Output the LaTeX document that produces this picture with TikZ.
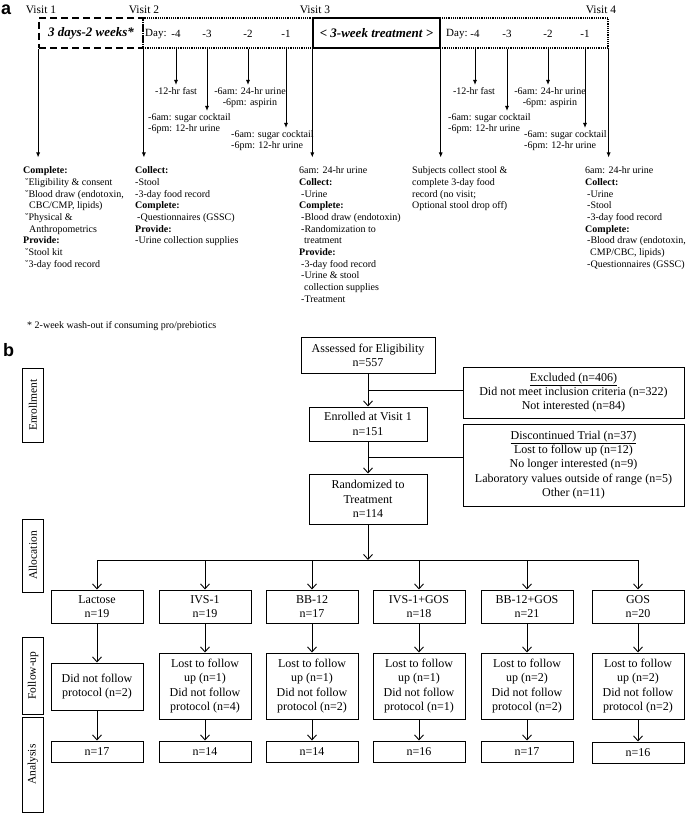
\documentclass[tikz,border=0pt]{standalone}
\usepackage{fontspec}
\setmainfont{Liberation Serif}
\newfontfamily\panelfont{Liberation Sans}
\usetikzlibrary{positioning,arrows.meta,calc}
\tikzset{
    panel/.style = {
        anchor=base west,
        inner sep=0pt,
        font=\panelfont\bfseries\fontsize{18}{18}\selectfont
    },
    visit/.style = {
        inner sep=0pt,
        font=\fontsize{11.5}{13}\selectfont
    },
    dayrow/.style = {
        inner sep=0pt,
        font=\fontsize{11}{13}\selectfont
    },
    washout/.style = {
        draw,
        shape=rectangle,
        minimum height=30pt,
        line width=1.8pt,
        dash pattern=on 7pt off 4pt,
        font=\bfseries\itshape\fontsize{13}{15}\selectfont
    },
    treatment/.style = {
        draw,
        shape=rectangle,
        minimum height=30pt,
        line width=1.4pt,
        font=\bfseries\itshape\fontsize{13}{15}\selectfont
    },
    daybox/.style = {
        draw,
        shape=rectangle,
        minimum height=30pt,
        line width=1.2pt,
        densely dotted
    },
    daynote/.style = {
        inner sep=2pt,
        align=left,
        font=\fontsize{10}{11.7}\selectfont
    },
    visitnote/.style = {
        inner sep=0pt,
        anchor=north west,
        align=left,
        font=\fontsize{10}{11.7}\selectfont
    },
    dayarrow/.style = {
        -{Latex[length=5pt,width=4pt]},
        line width=0.9pt
    },
    visitarrow/.style = {
        -{Latex[length=5pt,width=4pt]},
        line width=0.9pt,
        shorten >=9pt
    },
    flowbox/.style = {
        draw,
        shape=rectangle,
        line width=1pt,
        align=center,
        inner sep=1pt,
        font=\fontsize{12}{14.3}\selectfont
    },
    arm/.style = {
        flowbox,
        minimum width=92pt,
        minimum height=33pt
    },
    loss/.style = {
        flowbox,
        minimum width=92pt,
        minimum height=66pt
    },
    count/.style = {
        flowbox,
        minimum width=92pt,
        minimum height=21pt
    },
    phase/.style = {
        draw,
        shape=rectangle,
        rotate=90,
        line width=1pt,
        minimum height=21pt,
        inner sep=1pt,
        font=\fontsize{11.5}{13}\selectfont
    },
    flow/.style = {
        ->,
        line width=0.9pt
    },
    >={Straight Barb[length=5pt,width=9pt]},
}
\begin{document}
\begin{tikzpicture}[x=1pt,y=-1pt]
    \useasboundingbox (0,0) rectangle (685,813);

    % a: visit timeline
    \node[panel] (pa) at (1,15) {a};
    \node[visit] (visit1) at (41,9.5) {Visit 1};
    \node[visit] (visit2) at (144,9.5) {Visit 2};
    \node[visit] (visit3) at (315,9.5) {Visit 3};
    \node[visit] (visit4) at (601,9.5) {Visit 4};

    \node[daybox, minimum width=170pt] (daysA) at (228,33) {};
    \node[daybox, minimum width=168pt] (daysB) at (524,33) {};
    \node[washout, minimum width=104pt] (wash) at (91,33) {3 days-2 weeks*};
    \node[treatment, minimum width=127pt] (treat) at (376.5,33) {< 3-week treatment >};

    \node[dayrow, anchor=west] (dayA) at (145,34) {Day:};
    \node[dayrow] (dA4) at (176,34) {-4};
    \node[dayrow] (dA3) at (207,34) {-3};
    \node[dayrow] (dA2) at (248,34) {-2};
    \node[dayrow] (dA1) at (286,34) {-1};
    \node[dayrow, anchor=west] (dayB) at (446,34) {Day:};
    \node[dayrow] (dB4) at (475,34) {-4};
    \node[dayrow] (dB3) at (507,34) {-3};
    \node[dayrow] (dB2) at (548,34) {-2};
    \node[dayrow] (dB1) at (585,34) {-1};

    \node[daynote, anchor=north, align=center] (fastA) at (176,85) {-12-hr fast};
    \node[daynote, anchor=north, align=center] (urineA) at (250,85) {-6am: 24-hr urine\\-6pm: aspirin};
    \node[daynote, anchor=north west] (sugA) at (146,111) {-6am: sugar cocktail\\-6pm: 12-hr urine};
    \node[daynote, anchor=north west] (sugA1) at (229,128) {-6am: sugar cocktail\\-6pm: 12-hr urine};
    \node[daynote, anchor=north, align=center] (fastB) at (474,85) {-12-hr fast};
    \node[daynote, anchor=north, align=center] (urineB) at (550,85) {-6am: 24-hr urine\\-6pm: aspirin};
    \node[daynote, anchor=north west] (sugB) at (446,111) {-6am: sugar cocktail\\-6pm: 12-hr urine};
    \node[daynote, anchor=north west] (sugB1) at (522,128) {-6am: sugar cocktail\\-6pm: 12-hr urine};

    \path[draw, dayarrow] (dA4 |- daysA.south) -- (fastA.north);
    \path[draw, dayarrow] (dA3 |- daysA.south) -- (dA3 |- sugA.north);
    \path[draw, dayarrow] (dA2 |- daysA.south) -- (dA2 |- urineA.north);
    \path[draw, dayarrow] (dA1 |- daysA.south) -- (dA1 |- sugA1.north);
    \path[draw, dayarrow] (dB4 |- daysB.south) -- (dB4 |- fastB.north);
    \path[draw, dayarrow] (dB3 |- daysB.south) -- (dB3 |- sugB.north);
    \path[draw, dayarrow] (dB2 |- daysB.south) -- (dB2 |- urineB.north);
    \path[draw, dayarrow] (dB1 |- daysB.south) -- (dB1 |- sugB1.north);

    \node[visitnote] (v1text) at (23,166.5) {\textbf{Complete:}\\
        \hspace*{2pt}˘Eligibility \& consent\\
        \hspace*{2pt}˘Blood draw (endotoxin,\\
        \hspace*{6pt}CBC/CMP, lipids)\\
        \hspace*{2pt}˘Physical \&\\
        \hspace*{6pt}Anthropometrics\\
        \textbf{Provide:}\\
        \hspace*{2pt}˘Stool kit\\
        \hspace*{2pt}˘3-day food record};
    \node[visitnote] (v2text) at (135,166.5) {\textbf{Collect:}\\
        -Stool\\
        -3-day food record\\
        \textbf{Complete:}\\
        \hspace*{2pt}-Questionnaires (GSSC)\\
        \textbf{Provide:}\\
        -Urine collection supplies};
    \node[visitnote] (v3text) at (299,166.5) {6am: 24-hr urine\\
        \textbf{Collect:}\\
        \hspace*{2pt}-Urine\\
        \textbf{Complete:}\\
        \hspace*{2pt}-Blood draw (endotoxin)\\
        \hspace*{2pt}-Randomization to\\
        \hspace*{5pt}treatment\\
        \textbf{Provide:}\\
        \hspace*{2pt}-3-day food record\\
        \hspace*{2pt}-Urine \& stool\\
        \hspace*{5pt}collection supplies\\
        \hspace*{2pt}-Treatment};
    \node[visitnote] (midtext) at (412,166.5) {Subjects collect stool \&\\
        complete 3-day food\\
        record (no visit;\\
        Optional stool drop off)};
    \node[visitnote] (v4text) at (585,166.5) {6am: 24-hr urine\\
        \textbf{Collect:}\\
        \hspace*{2pt}-Urine\\
        \hspace*{2pt}-Stool\\
        \hspace*{2pt}-3-day food record\\
        \textbf{Complete:}\\
        \hspace*{2pt}-Blood draw (endotoxin,\\
        \hspace*{5pt}CMP/CBC, lipids)\\
        \hspace*{2pt}-Questionnaires (GSSC)};
    \node[visitnote] (washnote) at (27,321) {* 2-week wash-out if consuming pro/prebiotics};

    \path[draw, visitarrow] (wash.south west) -- (wash.south west |- v1text.north);
    \path[draw, visitarrow] (wash.south east) -- (wash.south east |- v2text.north);
    \path[draw, visitarrow] (treat.south west) -- (treat.south west |- v3text.north);
    \path[draw, visitarrow] (treat.south east) -- (treat.south east |- midtext.north);
    \path[draw, visitarrow] (daysB.south east) -- (daysB.south east |- v4text.north);

    % b: flow of participants
    \node[panel] (pb) at (3,356) {b};
    \node[phase, minimum width=74pt] (enrolment) at (33,405) {Enrollment};
    \node[phase, minimum width=73pt] (allocation) at (33,555.5) {Allocation};
    \node[phase, minimum width=77pt] (followup) at (33,675.5) {Follow-up};
    \node[phase, minimum width=95pt] (analysis) at (33,764.5) {Analysis};

    \node[flowbox, minimum width=134pt, minimum height=36pt] (assess) at (368,355) {Assessed for Eligibility\\n=557};
    \node[flowbox, minimum width=221pt, minimum height=51pt] (excl) at (573.5,392.5) {\underline{Excluded (n=406)}\\Did not meet inclusion criteria (n=322)\\Not interested (n=84)};
    \node[flowbox, minimum width=118pt, minimum height=34pt] (enrol) at (368,424) {Enrolled at Visit 1\\n=151};
    \node[flowbox, minimum width=221pt, minimum height=82pt] (disc) at (573.5,465) {\underline{Discontinued Trial (n=37)}\\Lost to follow up (n=12)\\No longer interested (n=9)\\Laboratory values outside of range (n=5)\\Other (n=11)};
    \node[flowbox, minimum width=118pt, minimum height=50pt] (rand) at (368,499) {Randomized to\\Treatment\\n=114};

    \path[draw, flow] (assess) -- coordinate (exclj) (enrol);
    \path[draw, line width=0.9pt] (exclj) -- (exclj -| excl.west);
    \path[draw, flow] (enrol) -- coordinate (discj) (rand);
    \path[draw, line width=0.9pt] (discj) -- (discj -| disc.west);

    \node[arm] (lact) at (97,606.5) {Lactose\\n=19};
    \node[arm] (ivs) at (205,606.5) {IVS-1\\n=19};
    \node[arm] (bb) at (312,606.5) {BB-12\\n=17};
    \node[arm] (ivsgos) at (419,606.5) {IVS-1+GOS\\n=18};
    \node[arm] (bbgos) at (527,606.5) {BB-12+GOS\\n=21};
    \node[arm] (gos) at (638,606.5) {GOS\\n=20};

    \node[loss, minimum height=47pt] (lactfu) at (97,686.5) {Did not follow\\protocol (n=2)};
    \node[loss] (ivsfu) at (205,686) {Lost to follow\\up (n=1)\\Did not follow\\protocol (n=4)};
    \node[loss] (bbfu) at (312,686) {Lost to follow\\up (n=1)\\Did not follow\\protocol (n=2)};
    \node[loss] (ivsgosfu) at (419,686) {Lost to follow\\up (n=1)\\Did not follow\\protocol (n=1)};
    \node[loss] (bbgosfu) at (527,686) {Lost to follow\\up (n=2)\\Did not follow\\protocol (n=2)};
    \node[loss] (gosfu) at (638,686) {Lost to follow\\up (n=2)\\Did not follow\\protocol (n=2)};

    \node[count] (lactan) at (97,751.5) {n=17};
    \node[count] (ivsan) at (205,751.5) {n=14};
    \node[count] (bban) at (312,751.5) {n=14};
    \node[count] (ivsgosan) at (419,751.5) {n=16};
    \node[count] (bbgosan) at (527,751.5) {n=17};
    \node[count] (gosan) at (638,752.5) {n=16};

    \coordinate (split) at (368,560);
    \path[draw, flow] (rand) -- (split);
    \path[draw, line width=0.9pt] (lact.north |- split) -- (gos.north |- split);
    \path[draw, flow] (lact.north |- split) -- (lact);
    \path[draw, flow] (ivs.north |- split) -- (ivs);
    \path[draw, flow] (bb.north |- split) -- (bb);
    \path[draw, flow] (ivsgos.north |- split) -- (ivsgos);
    \path[draw, flow] (bbgos.north |- split) -- (bbgos);
    \path[draw, flow] (gos.north |- split) -- (gos);

    \path[draw, flow] (lact) -- (lactfu);
    \path[draw, flow] (ivs) -- (ivsfu);
    \path[draw, flow] (bb) -- (bbfu);
    \path[draw, flow] (ivsgos) -- (ivsgosfu);
    \path[draw, flow] (bbgos) -- (bbgosfu);
    \path[draw, flow] (gos) -- (gosfu);
    \path[draw, flow] (lactfu) -- (lactan);
    \path[draw, flow] (ivsfu) -- (ivsan);
    \path[draw, flow] (bbfu) -- (bban);
    \path[draw, flow] (ivsgosfu) -- (ivsgosan);
    \path[draw, flow] (bbgosfu) -- (bbgosan);
    \path[draw, flow] (gosfu) -- (gosan);
\end{tikzpicture}
\end{document}
